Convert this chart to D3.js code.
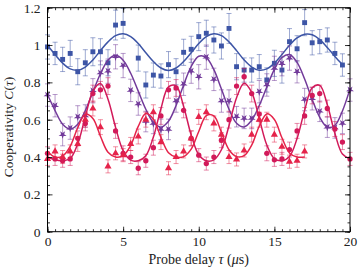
<!DOCTYPE html>
<html>
<head>
<meta charset="utf-8">
<script src="https://cdn.jsdelivr.net/npm/d3@7"></script>
<style>
  body { margin: 0; background: #fff; }
  svg text { font-family: "Liberation Serif", "DejaVu Serif", serif; }
</style>
</head>
<body>
<svg id="chart"></svg>
<script>
const width = 359, height = 267;

// probe delay grid (us)
const tauFull = [0, 0.5, 1, 1.5, 2, 2.5, 3, 3.5, 4, 4.5, 5, 5.5, 6, 6.5, 7, 7.5, 8, 8.5, 9, 9.5,
                 10, 10.5, 11, 11.5, 12, 12.5, 13, 13.5, 14, 14.5, 15, 15.5, 16, 16.5, 17, 17.5, 18, 18.5, 19, 19.5, 20];

// blue squares
const blueTau = [0, 0.5, 1, 1.5, 2, 2.5, 3, 3.5, 4, 4.5, 5, 6, 6.5, 7, 7.5, 8, 8.5, 9, 9.5, 10,
                 10.5, 11, 11.5, 12, 12.5, 13, 13.5, 14, 14.5, 15, 15.5, 16, 16.5, 17, 17.5, 18, 18.5, 19, 19.5];
const blueC = [0.99, 0.955, 0.923, 0.955, 0.857, 0.905, 0.964, 0.964, 0.905, 1.107, 1.116, 0.93, 0.786, 0.839, 0.834, 0.895, 0.857, 0.961, 0.977, 1.045,
               1.063, 1.027, 0.995, 1.089, 0.884, 0.866, 0.866, 0.884, 0.813, 0.902, 0.866, 1.018, 0.98, 1.12, 1.012, 1.018, 1.027, 0.955, 0.893];
const blueErr = [0.065, 0.06, 0.065, 0.07, 0.07, 0.07, 0.075, 0.07, 0.07, 0.08, 0.08, 0.07, 0.07, 0.065, 0.065, 0.07, 0.07, 0.07, 0.07, 0.075,
                 0.07, 0.07, 0.07, 0.08, 0.07, 0.065, 0.065, 0.065, 0.065, 0.07, 0.07, 0.07, 0.07, 0.07, 0.065, 0.065, 0.065, 0.06, 0.06];
const blueFit = [0.999, 0.949, 0.903, 0.872, 0.865, 0.882, 0.920, 0.970, 1.017, 1.050, 1.060, 1.045, 1.008, 0.959, 0.912, 0.877, 0.864, 0.877, 0.912, 0.959,
                 1.008, 1.045, 1.060, 1.050, 1.017, 0.970, 0.920, 0.882, 0.865, 0.872, 0.903, 0.949, 0.999, 1.038, 1.058, 1.055, 1.029, 0.987, 0.939, 0.896];

// purple stars
const purpleC = [0.732, 0.675, 0.52, 0.555, 0.615, 0.62, 0.755, 0.85, 0.86, 0.937, 0.89, 0.757, 0.684, 0.59, 0.58, 0.548, 0.548, 0.70, 0.79, 0.86,
                 0.83, 0.935, 0.816, 0.70, 0.70, 0.616, 0.607, 0.607, 0.75, 0.786, 0.875, 0.90, 0.93, 0.857, 0.708, 0.712, 0.645, 0.56, 0.556, 0.58, 0.759];
const purpleErr = [0.06, 0.06, 0.06, 0.06, 0.06, 0.06, 0.065, 0.065, 0.065, 0.065, 0.065, 0.06, 0.06, 0.055, 0.055, 0.055, 0.055, 0.06, 0.06, 0.065,
                   0.065, 0.065, 0.06, 0.06, 0.06, 0.055, 0.055, 0.055, 0.06, 0.06, 0.065, 0.065, 0.065, 0.06, 0.06, 0.06, 0.055, 0.055, 0.055, 0.055, 0.06];
const purpleFit = [0.735, 0.649, 0.576, 0.55, 0.576, 0.649, 0.748, 0.846, 0.919, 0.945, 0.919, 0.849, 0.753, 0.656, 0.586, 0.56, 0.592, 0.676, 0.786, 0.885,
                   0.940, 0.933, 0.868, 0.764, 0.656, 0.581, 0.561, 0.597, 0.676, 0.775, 0.870, 0.933, 0.949, 0.907, 0.818, 0.708, 0.613, 0.560, 0.569, 0.647, 0.765];

// red circles
const circleC = [0.42, 0.39, 0.38, 0.39, 0.50, 0.58, 0.74, 0.76, 0.78, 0.54, 0.42, 0.40, 0.34, 0.38, 0.45, 0.62, 0.76, 0.77, 0.65, 0.50,
                 0.41, 0.365, 0.40, 0.49, 0.60, 0.78, 0.83, 0.74, 0.63, 0.42, 0.385, 0.39, 0.44, 0.54, 0.62, 0.73, 0.74, 0.66, 0.55, 0.48, 0.39];
const circleErr = [0.035, 0.035, 0.035, 0.035, 0.04, 0.04, 0.045, 0.045, 0.045, 0.04, 0.04, 0.035, 0.035, 0.035, 0.04, 0.045, 0.045, 0.045, 0.04, 0.04,
                   0.035, 0.035, 0.035, 0.04, 0.045, 0.045, 0.045, 0.045, 0.04, 0.04, 0.035, 0.035, 0.04, 0.04, 0.045, 0.045, 0.045, 0.045, 0.04, 0.04, 0.035];
const circleFit = [0.40, 0.385, 0.38, 0.392, 0.471, 0.616, 0.752, 0.794, 0.710, 0.559, 0.434, 0.383, 0.38, 0.407, 0.507, 0.659, 0.776, 0.781, 0.671, 0.518,
                   0.412, 0.38, 0.385, 0.439, 0.568, 0.718, 0.795, 0.746, 0.606, 0.464, 0.391, 0.38, 0.403, 0.499, 0.650, 0.771, 0.784, 0.680, 0.527, 0.416, 0.39];

// red triangles (0 .. 17 us)
const triC = [0.39, 0.43, 0.40, 0.43, 0.47, 0.60, 0.66, 0.56, 0.35, 0.42, 0.41, 0.47, 0.51, 0.60, 0.64, 0.48, 0.34, 0.40, 0.43, 0.50,
              0.615, 0.64, 0.58, 0.52, 0.40, 0.387, 0.435, 0.52, 0.60, 0.60, 0.52, 0.455, 0.375, 0.38, 0.43];
const triErr = [0.035, 0.035, 0.035, 0.035, 0.04, 0.04, 0.04, 0.04, 0.035, 0.035, 0.035, 0.035, 0.04, 0.04, 0.04, 0.04, 0.035, 0.035, 0.035, 0.04,
                0.04, 0.04, 0.04, 0.04, 0.035, 0.035, 0.035, 0.04, 0.04, 0.04, 0.04, 0.04, 0.035, 0.035, 0.035];
const triFit = [0.43, 0.40, 0.405, 0.457, 0.557, 0.630, 0.607, 0.511, 0.426, 0.40, 0.407, 0.462, 0.564, 0.633, 0.603, 0.505, 0.423, 0.40, 0.402, 0.442,
                0.537, 0.622, 0.620, 0.532, 0.439, 0.402, 0.407, 0.464, 0.565, 0.631, 0.601, 0.503, 0.422, 0.40, 0.40];

const xTicks = [0, 5, 10, 15, 20];
const xTickLabels = ["0", "5", "10", "15", "20"];
const yTicks = [0, 0.2, 0.4, 0.6, 0.8, 1, 1.2];
const yTickLabels = ["0", "0.2", "0.4", "0.6", "0.8", "1", "1.2"];

const margin = { top: 7.7, right: 9, bottom: 35.3, left: 47.5 };
const x = d3.scaleLinear().domain([0, 20]).range([margin.left, width - margin.right]);
const y = d3.scaleLinear().domain([0, 1.2]).range([height - margin.bottom, margin.top]);

const svg = d3.select("#chart").attr("width", width).attr("height", height);

const series = [
    { tau: blueTau, c: blueC, err: blueErr, fitTau: tauFull.slice(0, blueFit.length), fit: blueFit,
      color: "#3d55a6", symbol: d3.symbolSquare, size: 24, rot: 0 },
    { tau: tauFull, c: purpleC, err: purpleErr, fitTau: tauFull, fit: purpleFit,
      color: "#723a9a", symbol: d3.symbolStar, size: 20, rot: 180 },
    { tau: tauFull, c: circleC, err: circleErr, fitTau: tauFull, fit: circleFit,
      color: "#d21a5a", symbol: d3.symbolCircle, size: 22, rot: 0 },
    { tau: tauFull.slice(0, triC.length), c: triC, err: triErr, fitTau: tauFull.slice(0, triFit.length), fit: triFit,
      color: "#e5234a", symbol: d3.symbolTriangle, size: 22, rot: 0 }
];

const line = d3.line().curve(d3.curveCatmullRom.alpha(0.5));

series.forEach(s => {
    const pts = s.tau.map((t, i) => ({ t: t, c: s.c[i], e: s.err[i] }));
    const g = svg.append("g");

    // error bars with caps
    const eb = g.append("g")
        .attr("stroke", s.color)
        .attr("stroke-opacity", 0.5)
        .attr("stroke-width", 1)
        .attr("fill", "none");
    pts.forEach(p => {
        const px = x(p.t), y1 = y(p.c - p.e), y2 = y(p.c + p.e);
        eb.append("path")
            .attr("d", `M${px},${y1}V${y2}M${px - 2.5},${y1}H${px + 2.5}M${px - 2.5},${y2}H${px + 2.5}`);
    });

    // fit curve
    g.append("path")
        .attr("d", line(s.fitTau.map((t, i) => [x(t), y(s.fit[i])])))
        .attr("fill", "none")
        .attr("stroke", s.color)
        .attr("stroke-width", 1.5);

    // markers
    g.selectAll(".m")
        .data(pts)
        .enter()
        .append("path")
        .attr("d", d3.symbol().type(s.symbol).size(s.size))
        .attr("transform", d => `translate(${x(d.t)},${y(d.c)}) rotate(${s.rot})`)
        .attr("fill", s.color);
});

// axes: ticks pointing inwards on all four sides
const xMinor = d3.range(0, 20.01, 0.5);
const yMinor = d3.range(0, 1.201, 0.05);

function drawAxis(axisFn, scale, transform, major, minor, labels, pad) {
    const gMinor = svg.append("g").attr("transform", transform)
        .call(axisFn(scale).tickValues(minor).tickSizeInner(-2.5).tickSizeOuter(0).tickFormat(""));
    gMinor.select(".domain").remove();
    const gMajor = svg.append("g").attr("transform", transform)
        .call(axisFn(scale).tickValues(major).tickSizeInner(-5).tickSizeOuter(0).tickPadding(pad)
            .tickFormat((d, i) => labels ? labels[i] : ""));
    gMajor.select(".domain").remove();
    gMajor.selectAll("text").attr("font-size", 13.5).attr("fill", "#222")
        .style("font-family", '"Liberation Serif", serif');
    svg.selectAll(".tick line").attr("stroke", "#000").attr("stroke-width", 0.8);
}

drawAxis(d3.axisBottom, x, `translate(0,${y(0)})`, xTicks, xMinor, xTickLabels, 5);
drawAxis(d3.axisTop, x, `translate(0,${y(1.2)})`, xTicks, xMinor, null, 5);
drawAxis(d3.axisLeft, y, `translate(${x(0)},0)`, yTicks, yMinor, yTickLabels, 7);
drawAxis(d3.axisRight, y, `translate(${x(20)},0)`, yTicks, yMinor, null, 7);

svg.append("rect")
    .attr("x", x(0)).attr("y", y(1.2))
    .attr("width", x(20) - x(0)).attr("height", y(0) - y(1.2))
    .attr("fill", "none").attr("stroke", "#000").attr("stroke-width", 1);

// axis titles
const xt = svg.append("text")
    .attr("x", (x(0) + x(20)) / 2).attr("y", 264)
    .attr("text-anchor", "middle").attr("font-size", 14).attr("fill", "#222");
xt.append("tspan").text("Probe delay ");
xt.append("tspan").attr("font-style", "italic").text("τ");
xt.append("tspan").text(" (");
xt.append("tspan").attr("font-style", "italic").text("μ");
xt.append("tspan").text("s)");

const yt = svg.append("text")
    .attr("transform", "translate(13,127) rotate(-90)")
    .attr("text-anchor", "middle").attr("font-size", 13.5).attr("fill", "#222");
yt.append("tspan").text("Cooperativity ");
yt.append("tspan").attr("font-style", "italic").text("C");
yt.append("tspan").text("(");
yt.append("tspan").attr("font-style", "italic").text("τ");
yt.append("tspan").text(")");
</script>
</body>
</html>
